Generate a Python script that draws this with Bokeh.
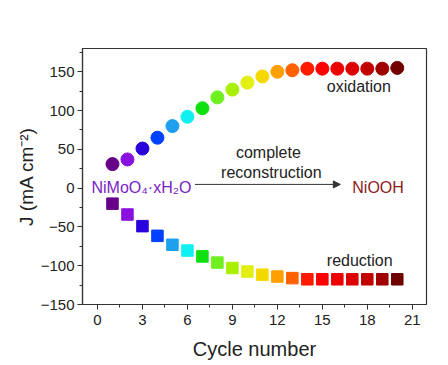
from bokeh.plotting import figure
from bokeh.models import (ColumnDataSource, Label, Arrow, NormalHead, FixedTicker)
from bokeh.embed import file_html
from bokeh.resources import INLINE

# ---- data ----
cycles = list(range(1, 21))
oxidation = [31, 37, 51, 65, 80, 92, 103, 117, 127, 136, 144, 150, 152, 154, 154, 154, 154, 154, 154, 155]
reduction = [-20, -34, -49, -61.5, -73, -80.5, -88, -96, -103, -107.5, -111.5, -114, -116,
             -117.5, -117.5, -117.5, -117.5, -117.5, -117.5, -117.5]
colors = ["#660088", "#8a10e0", "#2a00dd", "#0040ff", "#1ea0ee", "#10f0f0", "#10e010",
          "#70f020", "#a8f000", "#e2ef10", "#f5d800", "#ffa000", "#ff6000", "#ff1a00",
          "#ff0000", "#ee0000", "#dd0000", "#c20000", "#a00000", "#700000"]
x_ticks = [0, 3, 6, 9, 12, 15, 18, 21]
x_minor = [1.5, 4.5, 7.5, 10.5, 13.5, 16.5, 19.5]
y_ticks = [-150, -100, -50, 0, 50, 100, 150]
y_minor = [-125, -75, -25, 25, 75, 125, 175]

FONT = "Liberation Sans"

p = figure(width=448, height=365, x_range=(-1, 21.95), y_range=(-150, 180),
           output_backend="svg", toolbar_location=None,
           min_border_left=82, min_border_right=22, min_border_top=48, min_border_bottom=61)
p.background_fill_color = "white"
p.border_fill_color = "white"
p.outline_line_color = "#333333"
p.outline_line_width = 1.2
p.grid.visible = False

src = ColumnDataSource(dict(x=cycles, ox=oxidation, red=reduction, c=colors))
p.scatter("x", "ox", source=src, marker="circle", size=13, fill_color="c", line_color="c")
p.scatter("x", "red", source=src, marker="square", size=11.5, fill_color="c", line_color="c")

for ax in (p.xaxis[0], p.yaxis[0]):
    ax.axis_line_color = "#333333"
    ax.axis_line_width = 1.2
    ax.major_tick_line_color = "#333333"
    ax.minor_tick_line_color = "#333333"
    ax.major_tick_out = 5
    ax.major_tick_in = 0
    ax.minor_tick_out = 3
    ax.minor_tick_in = 0
    ax.major_label_text_font = FONT
    ax.major_label_text_font_size = "15px"
    ax.major_label_text_color = "#222222"
    ax.axis_label_text_font = FONT
    ax.axis_label_text_font_style = "normal"
    ax.axis_label_text_color = "#222222"

p.xaxis.ticker = FixedTicker(ticks=x_ticks, minor_ticks=x_minor)
p.yaxis.ticker = FixedTicker(ticks=y_ticks, minor_ticks=y_minor)
p.xaxis.axis_label = "Cycle number"
p.xaxis.axis_label_text_font_size = "20px"
p.xaxis.major_label_standoff = 5
p.xaxis.axis_label_standoff = 10
p.yaxis.axis_label = "J (mA cm\u207b\u00b2)"
p.yaxis.axis_label_text_font_size = "19px"
p.yaxis.major_label_standoff = 3
p.yaxis.axis_label_standoff = 1

def lab(x, y, text, color="#222222", size="16px", align="left", baseline="middle"):
    p.add_layout(Label(x=x, y=y, text=text, text_color=color, text_font=FONT,
                       text_font_size=size, text_align=align, text_baseline=baseline))

lab(15.3, 130.5, "oxidation")
lab(15.3, -93.4, "reduction")
lab(11.4, 46.5, "complete", align="center")
lab(11.6, 20.7, "reconstruction", align="center")
lab(-0.4, 1.0, "NiMoO\u2084\u00b7xH\u2082O", color="#7a22c4", size="16px", baseline="alphabetic")
lab(17.0, 1.0, "NiOOH", color="#8b1a1a", size="16px", baseline="alphabetic")

p.add_layout(Arrow(end=NormalHead(size=7, fill_color="#333333", line_color="#333333"),
                   x_start=6.5, y_start=4.8, x_end=16.2, y_end=4.8,
                   line_color="#333333", line_width=1))

open("out.html", "w").write(file_html(p, INLINE))
